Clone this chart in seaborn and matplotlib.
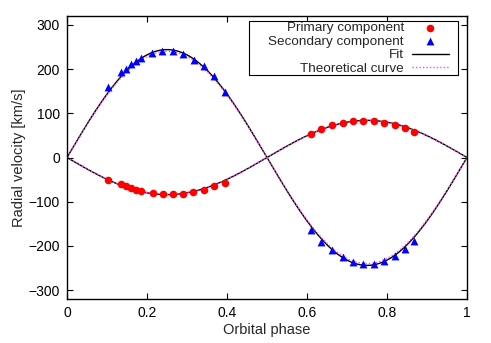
import numpy as np
import pandas as pd
import matplotlib
matplotlib.use("Agg")
import matplotlib.pyplot as plt
from matplotlib.patches import Rectangle
import seaborn as sns

primary_phase = [0.103, 0.134, 0.147, 0.159, 0.1725, 0.185, 0.214, 0.239, 0.264, 0.289,
                 0.316, 0.3425, 0.3675, 0.395,
                 0.609, 0.635, 0.662, 0.689, 0.716, 0.741, 0.7675, 0.7925, 0.819, 0.844, 0.8675]
primary_rv = [-50, -61, -65, -70, -73, -76, -81, -83, -83, -82,
              -78, -73, -64, -58,
              54, 65, 74, 79, 83, 83, 82, 79, 74, 66, 57]

secondary_phase = [0.103, 0.135, 0.147, 0.16, 0.1725, 0.185, 0.213, 0.238, 0.264, 0.291,
                   0.317, 0.3425, 0.3675, 0.396,
                   0.609, 0.635, 0.662, 0.689, 0.716, 0.741, 0.7675, 0.793, 0.819, 0.844, 0.8675]
secondary_rv = [160, 194, 201, 211, 219, 226, 237, 241, 241, 234,
                221, 206, 185, 147,
                -165, -190, -210, -226, -236, -241, -241, -234, -223, -206, -189]

# Model parameters (semi-amplitudes, km/s)
K1_fit, K2_fit = 84.0, 244.0
K1_theo, K2_theo = 83.0, 240.0

x_ticks = [0, 0.2, 0.4, 0.6, 0.8, 1]
x_ticklabels = ["0", "0.2", "0.4", "0.6", "0.8", "1"]
y_ticks = [-300, -200, -100, 0, 100, 200, 300]

sns.set_style("ticks")
plt.rcParams['font.family'] = ['Liberation Sans', 'DejaVu Sans']

fig = plt.figure(figsize=(4.91, 3.43), dpi=100)
ax = fig.add_axes([67/491, 1 - 299/343, 400/491, 283/343])

phase = np.linspace(0, 1, 400)
curves = pd.DataFrame({
    "phase": np.concatenate([phase, phase]),
    "fit": np.concatenate([-K1_fit * np.sin(2*np.pi*phase), K2_fit * np.sin(2*np.pi*phase)]),
    "theo": np.concatenate([-K1_theo * np.sin(2*np.pi*phase), K2_theo * np.sin(2*np.pi*phase)]),
    "comp": ["p"] * len(phase) + ["s"] * len(phase),
})

pdf = pd.DataFrame({"phase": primary_phase, "rv": primary_rv})
sdf = pd.DataFrame({"phase": secondary_phase, "rv": secondary_rv})

sns.scatterplot(data=pdf, x="phase", y="rv", ax=ax, color="red", marker="o",
                s=30, edgecolor="red", linewidth=0, label="Primary component", zorder=3)
sns.scatterplot(data=sdf, x="phase", y="rv", ax=ax, color="blue", marker="^",
                s=32, edgecolor="blue", linewidth=0, label="Secondary component", zorder=3)

for i, comp in enumerate(["p", "s"]):
    sub = curves[curves["comp"] == comp]
    sns.lineplot(data=sub, x="phase", y="fit", ax=ax, color="black", lw=1.0,
                 label="Fit" if i == 0 else None, zorder=2, estimator=None, sort=False)
for i, comp in enumerate(["p", "s"]):
    sub = curves[curves["comp"] == comp]
    sns.lineplot(data=sub, x="phase", y="theo", ax=ax, color="#ff44ff", lw=1.0,
                 linestyle=(0, (1, 1.5)), label="Theoretical curve" if i == 0 else None,
                 zorder=2.5, estimator=None, sort=False)

ax.set_xlim(0, 1)
ax.set_ylim(-320, 320)
ax.set_xticks(x_ticks)
ax.set_xticklabels(x_ticklabels)
ax.set_yticks(y_ticks)
ax.tick_params(direction="in", top=True, right=True, length=4, width=0.8,
               labelsize=10, colors="black", pad=5)
for sp in ax.spines.values():
    sp.set_linewidth(1.0)
    sp.set_color("black")
ax.set_xlabel("Orbital phase", fontsize=10.5, labelpad=2)
ax.set_ylabel("Radial velocity [km/s]", fontsize=10.5, labelpad=2)

leg = ax.legend(loc="upper right", markerfirst=False, fontsize=9.7, frameon=False,
                borderpad=0.0, labelspacing=0.08, handlelength=2.75, handletextpad=0.6,
                borderaxespad=0.0, bbox_to_anchor=((449 - 67) / 400, (299 - 22.0) / 283))
for t in leg.get_texts():
    t.set_ha("right")
leg.set_zorder(5)

# legend box
x0, x1 = (249 - 67) / 400, (458 - 67) / 400
y0, y1 = (299 - 74.5) / 283, (299 - 20.7) / 283
ax.add_patch(Rectangle((x0, y0), x1 - x0, y1 - y0, transform=ax.transAxes,
                       facecolor="white", edgecolor="black", lw=0.8, zorder=4))

fig.savefig("out.png", dpi=100)
